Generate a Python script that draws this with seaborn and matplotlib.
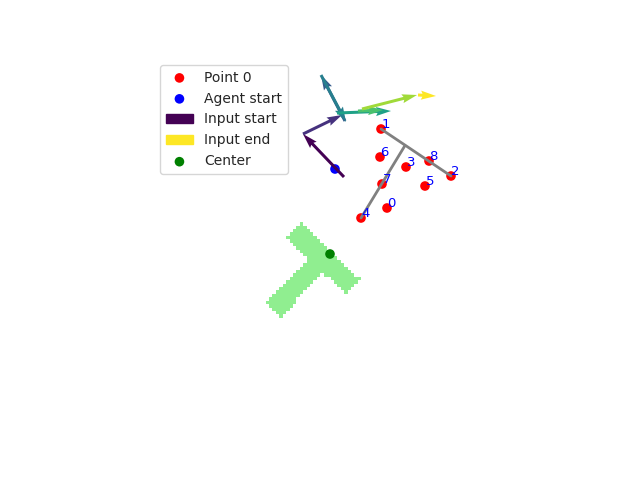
import numpy as np
import matplotlib
matplotlib.use("Agg")
import matplotlib.pyplot as plt
import matplotlib.patches as mpatches
from matplotlib.path import Path
import seaborn as sns

# ---- data (pixel-like coordinates, y downwards) ----
kp_x = [387, 381, 451, 406, 361, 425, 380, 382, 429]
kp_y = [208, 129, 176, 167, 218, 186, 157, 184, 161]
kp_labels = ["0", "1", "2", "3", "4", "5", "6", "7", "8"]

seg_x0 = [381, 361]
seg_y0 = [129, 218]
seg_x1 = [451, 405]
seg_y1 = [176, 145.5]

arrow_x0 = [344, 303, 345, 321, 337, 358, 362, 418]
arrow_y0 = [177, 134, 121, 75, 113, 111, 109, 95]
arrow_x1 = [303, 342, 321, 346, 391, 383, 417, 436]
arrow_y1 = [134, 115, 75, 122, 111, 110, 95, 96]

agent_x = [335]
agent_y = [169]
center_x = [330]
center_y = [254]

t_poly_x = [300, 360, 345, 323, 280, 266, 308, 286]
t_poly_y = [222, 279, 294, 273, 317, 303, 258, 237]
t_cell = 3.4

legend_labels = ["Point 0", "Agent start", "Input start", "Input end", "Center"]

# ---- figure ----
sns.set_style("white")
fig = plt.figure(figsize=(6.4, 4.8), dpi=100)
ax = fig.add_axes([0, 0, 1, 1])
ax.set_xlim(0, 640)
ax.set_ylim(480, 0)
ax.axis("off")

# T block as a raster
gx0, gx1 = 252.0, 252.0 + 36 * t_cell
gy0, gy1 = 212.0, 212.0 + 34 * t_cell
xs = np.arange(gx0 + t_cell / 2, gx1, t_cell)
ys = np.arange(gy0 + t_cell / 2, gy1, t_cell)
XX, YY = np.meshgrid(xs, ys)
path = Path(np.column_stack([t_poly_x, t_poly_y]))
inside = path.contains_points(np.column_stack([XX.ravel(), YY.ravel()])).reshape(XX.shape)
img = np.zeros(XX.shape + (4,))
img[inside] = matplotlib.colors.to_rgba("lightgreen")
ax.imshow(img, extent=[gx0, xs[-1] + t_cell / 2, ys[-1] + t_cell / 2, gy0],
          origin="upper", interpolation="nearest", zorder=0, aspect="auto")

# keypoints
sns.scatterplot(x=kp_x, y=kp_y, color="red", s=48, edgecolor="none", ax=ax,
                zorder=2, label=legend_labels[0], legend=False)
for x, y, t in zip(kp_x, kp_y, kp_labels):
    ax.text(x + 0.5, y - 1.3, t, color="blue", fontsize=9.5, zorder=6)

# gray segments
for a, b, c, d in zip(seg_x0, seg_y0, seg_x1, seg_y1):
    ax.plot([a, c], [b, d], color="gray", lw=2, zorder=3)

# agent start
sns.scatterplot(x=agent_x, y=agent_y, color="blue", s=48, edgecolor="none", ax=ax,
                zorder=2, label=legend_labels[1], legend=False)

# input arrows
cmap = plt.get_cmap("viridis")
n = len(arrow_x0)
colors = [cmap(i / (n - 1)) for i in range(n)]
U = np.array(arrow_x1) - np.array(arrow_x0)
V = np.array(arrow_y1) - np.array(arrow_y0)
ax.quiver(arrow_x0, arrow_y0, U, V, color=colors, angles="xy", scale_units="xy",
          scale=1, width=0.0047, zorder=4)

# center
sns.scatterplot(x=center_x, y=center_y, color="green", s=48, edgecolor="none", ax=ax,
                zorder=5, label=legend_labels[4], legend=False)

handles, labels = ax.get_legend_handles_labels()
hmap = dict(zip(labels, handles))
leg_handles = [
    hmap[legend_labels[0]],
    hmap[legend_labels[1]],
    mpatches.Patch(color=cmap(0.0), label=legend_labels[2]),
    mpatches.Patch(color=cmap(1.0), label=legend_labels[3]),
    hmap[legend_labels[4]],
]
ax.legend(handles=leg_handles, labels=legend_labels, loc="upper left",
          bbox_to_anchor=(160 / 640, 1 - 65 / 480), bbox_transform=fig.transFigure,
          borderaxespad=0, fontsize=10)

fig.savefig("out.png", dpi=100)
